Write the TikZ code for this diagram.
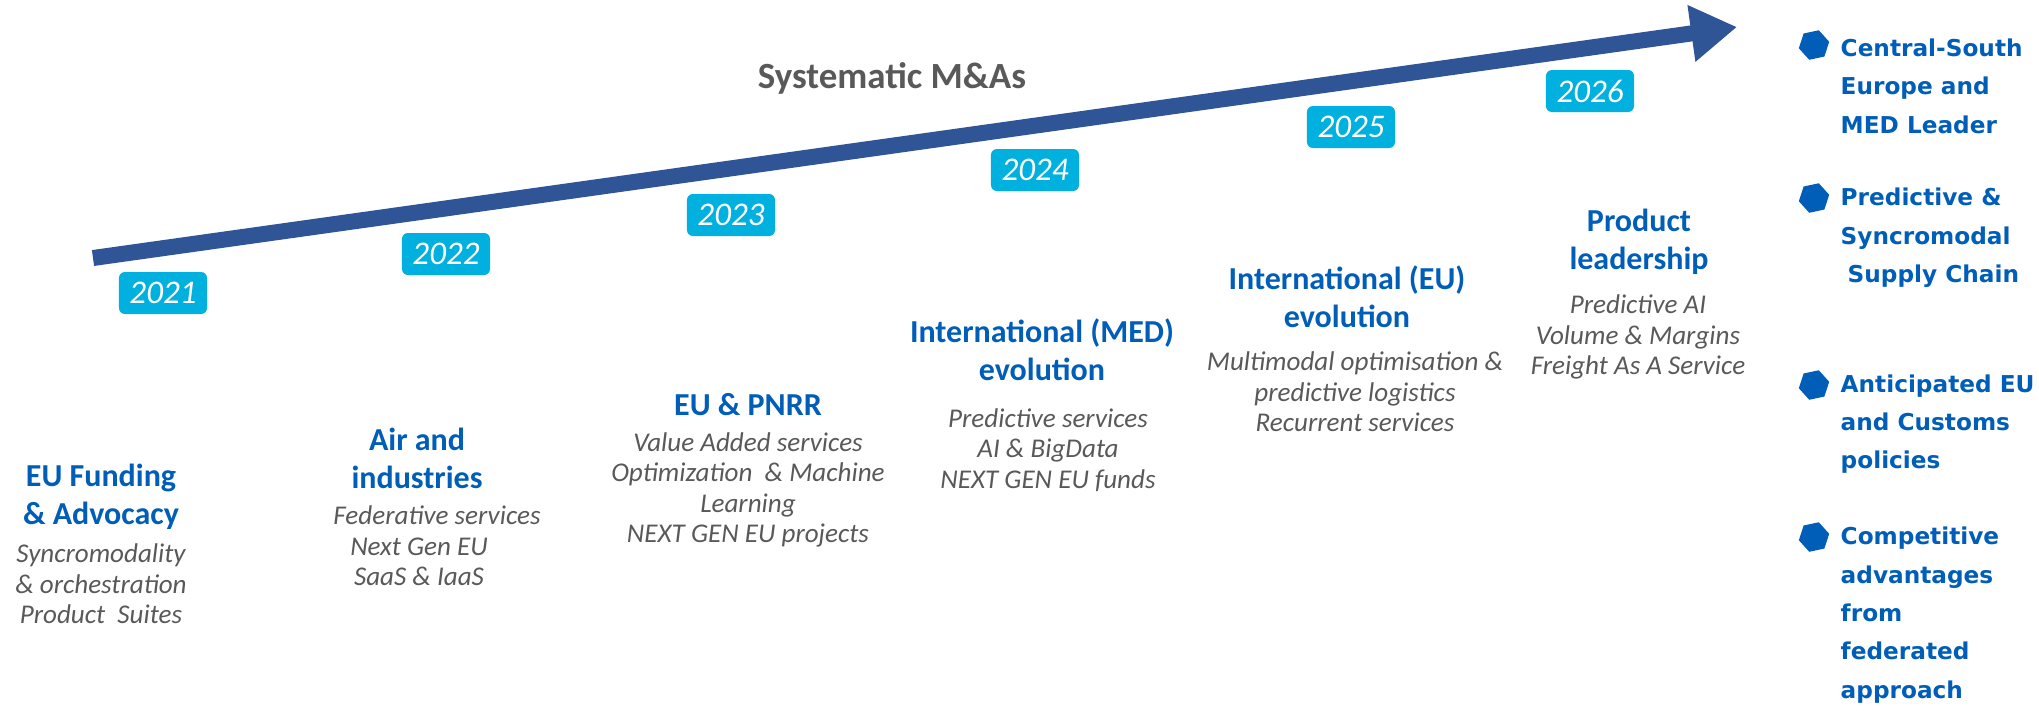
\documentclass[tikz,border=0pt]{standalone}
\usepackage{fontspec}
\setmainfont{Carlito}
\newfontfamily\goalfont{DejaVu Sans}
\usetikzlibrary{arrows.meta,shapes.geometric}
\definecolor{arrowblue}{HTML}{2F5597}
\definecolor{titleblue}{HTML}{005EB8}
\definecolor{textgrey}{HTML}{595959}
\definecolor{yearcyan}{HTML}{00B0DE}
\tikzset{
  yearbox/.style={fill=yearcyan, rounded corners=0.06cm, minimum width=0.88cm, minimum height=0.42cm,
    inner sep=0pt, text=white, font=\fontsize{9.4pt}{9.4pt}\selectfont\itshape},
  phasetitle/.style={text=titleblue, align=center, inner sep=0pt, font=\fontsize{9.1pt}{10.8pt}\selectfont\bfseries},
  phasebody/.style={text=textgrey, align=center, inner sep=0pt, font=\fontsize{7.7pt}{8.7pt}\selectfont\itshape},
  goaltext/.style={text=titleblue, align=left, anchor=west, inner sep=0pt, font=\goalfont\bfseries\fontsize{6.6pt}{10.9pt}\selectfont},
  goalbullet/.style={regular polygon, regular polygon sides=6, fill=titleblue, inner sep=0pt, minimum size=0.31cm, shape border rotate=12},
  headline/.style={text=textgrey, inner sep=0pt, font=\fontsize{10.5pt}{10.5pt}\selectfont\bfseries}
}
\begin{document}
\begin{tikzpicture}[x=0.01cm,y=-0.01cm]
\useasboundingbox (0,0) rectangle (2039,714);
% timeline arrow
\coordinate (tl0) at (93,258);
\coordinate (tl1) at (1737,27);
\draw[arrowblue, line width=0.16cm, -{Triangle[length=0.46cm,width=0.54cm]}] (tl0) -- (tl1);
\node[headline] (ma) at (892,78) {Systematic M\&As};
% years
\node[yearbox] (y21) at (163,293) {2021};
\node[yearbox] (y22) at (446,254) {2022};
\node[yearbox] (y23) at (731,215) {2023};
\node[yearbox] (y24) at (1035,170) {2024};
\node[yearbox] (y25) at (1351,127) {2025};
\node[yearbox] (y26) at (1590,91) {2026};
% phases
\node[phasetitle] (t1) at (101,497) {EU Funding\\\& Advocacy};
\node[phasebody] (b1) at (101,584) {Syncromodality\\\& orchestration\\Product\ \ Suites};
\node[phasetitle] (t2) at (417,458) {Air and\\industries};
\node[phasebody] (b2) at (419,546) {\hspace*{0.36cm}Federative services\\Next Gen EU\\SaaS \& IaaS};
\node[phasetitle] (t3) at (748,405) {EU \& PNRR};
\node[phasebody] (b3) at (748,490) {Value Added services\\Optimization\ \ \& Machine\\Learning\\NEXT GEN EU projects};
\node[phasetitle] (t4) at (1042,350) {International (MED)\\evolution};
\node[phasebody] (b4) at (1048,450) {Predictive services\\AI \& BigData\\NEXT GEN EU funds};
\node[phasetitle] (t5) at (1347,297) {International (EU)\\evolution};
\node[phasebody] (b5) at (1355,392) {Multimodal optimisation \&\\predictive logistics\\Recurrent services};
\node[phasetitle] (t6) at (1639,242) {Product\\leadership};
\node[phasebody] (b6) at (1638,337) {Predictive AI\\Volume \& Margins\\Freight As A Service};
% goals
\node[goalbullet] (g1b) at (1814,45) {};
\node[goaltext] (g1) at (1840,86) {Central-South\\Europe and\\MED Leader};
\node[goalbullet] (g2b) at (1814,198) {};
\node[goaltext] (g2) at (1840,238) {Predictive \&\\Syncromodal\\\hspace*{0.07cm}Supply Chain};
\node[goalbullet] (g3b) at (1814,385) {};
\node[goaltext] (g3) at (1840,424) {Anticipated EU\\and Customs\\policies};
\node[goalbullet] (g4b) at (1814,537) {};
\node[goaltext] (g4) at (1840,615) {Competitive\\advantages\\from\\federated\\approach};
\end{tikzpicture}
\end{document}
